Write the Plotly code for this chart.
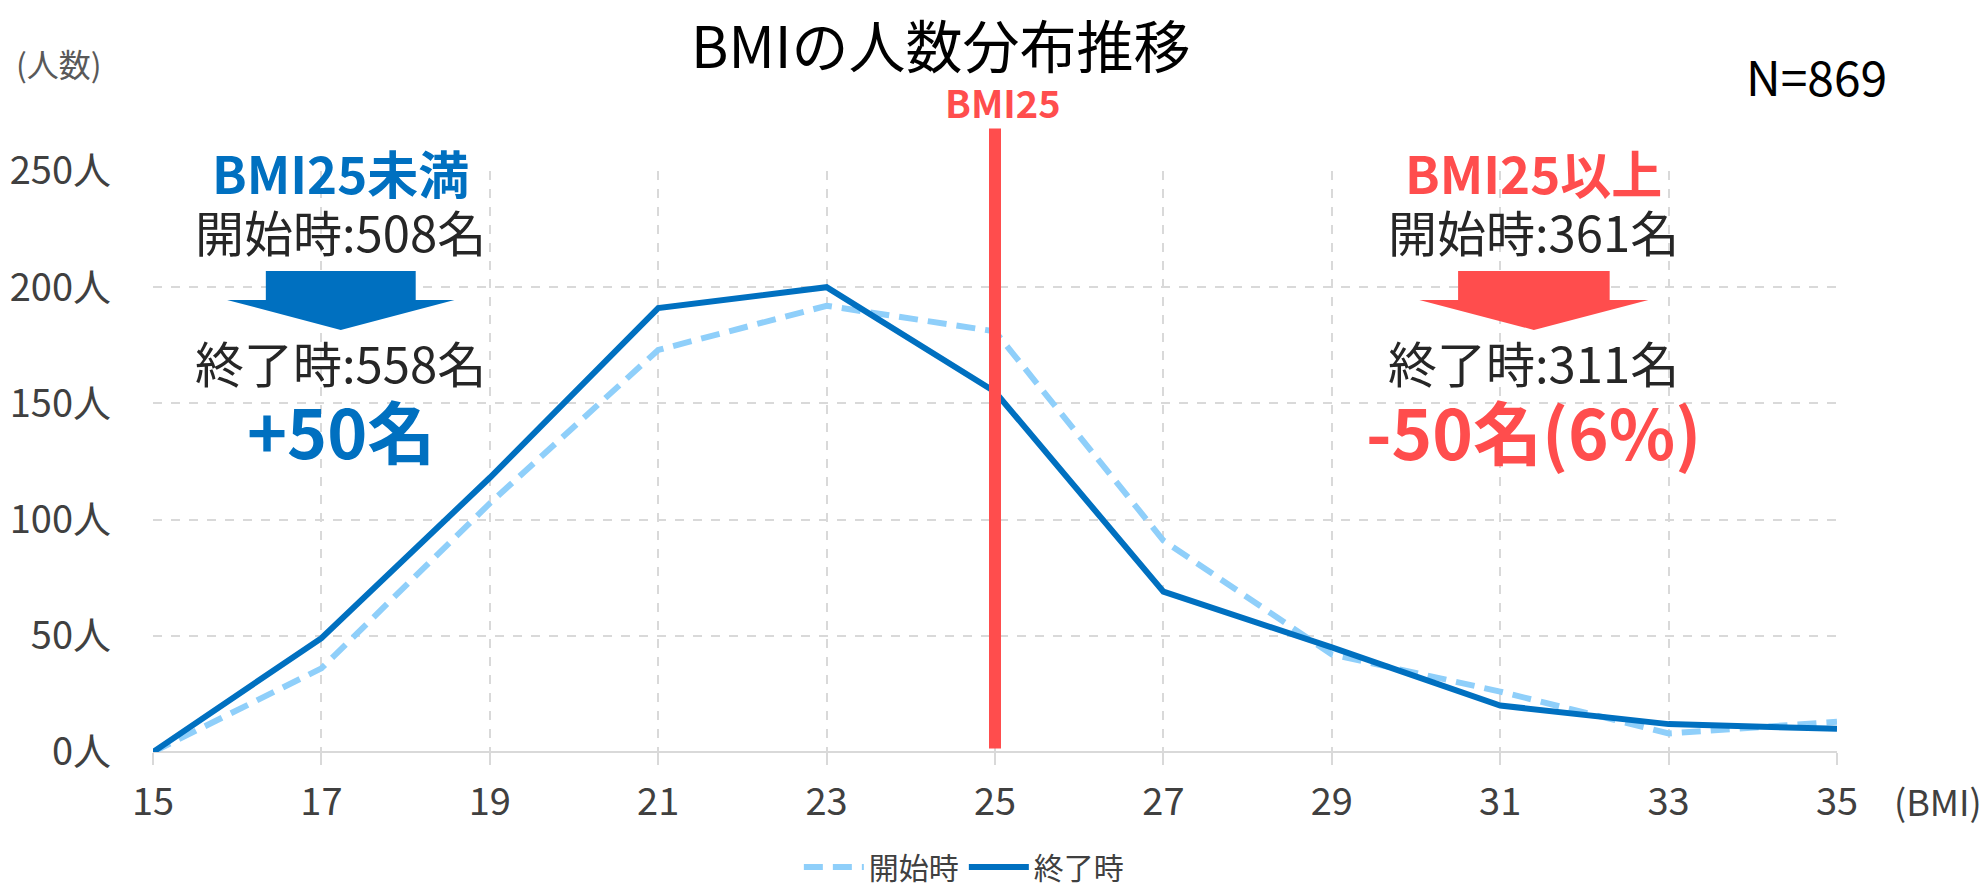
import plotly.graph_objects as go

# ---- data ----
bmi = [15, 17, 19, 21, 23, 25, 27, 29, 31, 33, 35]
start_counts = [0, 36, 107, 173, 192, 181, 91, 42, 26, 8, 13]
end_counts = [0, 49, 118, 191, 200, 155, 69, 45, 20, 12, 10]
series_names = ["開始時", "終了時"]
y_ticks = [0, 50, 100, 150, 200, 250]
y_tick_labels = [f"{v}人" for v in y_ticks]
threshold = 25

FONT = "Noto Sans CJK JP"
BLUE = "#0070C0"
LIGHT = "#8FCFFA"
RED = "#FF4D4D"
GRID = "#D9D9D9"

fig = go.Figure()
fig.add_trace(go.Scatter(x=bmi, y=start_counts, mode="lines", name=series_names[0],
                         line=dict(color=LIGHT, width=6, dash="19px,10px")))
fig.add_trace(go.Scatter(x=bmi, y=end_counts, mode="lines", name=series_names[1],
                         line=dict(color=BLUE, width=6)))

# threshold line
fig.add_shape(type="line", xref="x", yref="paper", x0=threshold, x1=threshold,
              y0=0.006, y1=1.073, line=dict(color=RED, width=12), layer="above")

def arrow(xc, half_body, half_head, y_top, y_mid, y_tip, color):
    path = (f"M {xc-half_body},{y_top} L {xc+half_body},{y_top} L {xc+half_body},{y_mid} "
            f"L {xc+half_head},{y_mid} L {xc},{y_tip} L {xc-half_head},{y_mid} "
            f"L {xc-half_body},{y_mid} Z")
    fig.add_shape(type="path", xref="x", yref="y", path=path,
                  fillcolor=color, line=dict(width=0), layer="above")

arrow(17.23, 0.89, 1.35, 207.0, 194.5, 181.6, BLUE)
arrow(31.40, 0.90, 1.36, 207.0, 194.5, 181.6, RED)

def txt(x, y, s, size, color="#262626", bold=False, xref="x", yref="y", xshift=0):
    fig.add_annotation(x=x, y=y, xref=xref, yref=yref, text=f"<b>{s}</b>" if bold else s,
                       showarrow=False, xanchor="center", yanchor="middle", xshift=xshift,
                       font=dict(family=FONT, size=size, color=color))

# left block
txt(17.23, 249.5, "BMI25未満", 51, BLUE, True)
txt(17.23, 224.6, "開始時:508名", 49)
txt(17.23, 167.9, "終了時:558名", 49)
txt(17.23, 138.6, "+50名", 68, BLUE, True)
# right block
txt(31.40, 249.5, "BMI25以上", 51, RED, True)
txt(31.40, 224.6, "開始時:361名", 49)
txt(31.40, 167.9, "終了時:311名", 49)
txt(31.40, 138.6, "-50名(6%)", 69, RED, True)

# misc labels
txt(threshold, 1.12, "BMI25", 38, RED, True, yref="paper", xshift=8)
txt((940 - 153) / 1684, 1.22, "BMIの人数分布推移", 57, "#000000", xref="paper", yref="paper")
txt((1816 - 153) / 1684, 1.166, "N=869", 48, "#000000", xref="paper", yref="paper")
txt((59 - 153) / 1684, 1.186, "(人数)", 32, "#595959", xref="paper", yref="paper")
txt((1938 - 153) / 1684, -0.083, "(BMI)", 36, "#404040", xref="paper", yref="paper")

fig.update_layout(
    width=1988, height=891,
    margin=dict(l=153, r=151, t=171, b=139, autoexpand=False),
    plot_bgcolor="white", paper_bgcolor="white",
    font=dict(family=FONT, color="#404040"),
    showlegend=True,
    legend=dict(orientation="h", x=0.4815, xanchor="center", y=-0.198, yanchor="middle",
                font=dict(family=FONT, size=30, color="#404040"), itemwidth=60,
                traceorder="normal"),
)
fig.update_xaxes(range=[15, 35], tickvals=bmi, ticktext=[str(v) for v in bmi],
                 showgrid=True, gridcolor=GRID, griddash="dash", gridwidth=2,
                 ticks="outside", ticklen=12, tickcolor=GRID, tickwidth=2,
                 showline=False, zeroline=False, ticklabelstandoff=4, automargin=False,
                 tickfont=dict(family=FONT, size=38, color="#404040"))
fig.update_yaxes(range=[0, 250], tickvals=y_ticks, ticktext=y_tick_labels,
                 showgrid=True, gridcolor=GRID, griddash="dash", gridwidth=2,
                 zeroline=True, zerolinecolor=GRID, zerolinewidth=2, automargin=False,
                 showline=False, ticks="", ticklabelstandoff=41,
                 tickfont=dict(family=FONT, size=38, color="#404040"))

fig.write_html("out.html", config={"displayModeBar": False},
               post_script="document.body.style.margin='0';")
